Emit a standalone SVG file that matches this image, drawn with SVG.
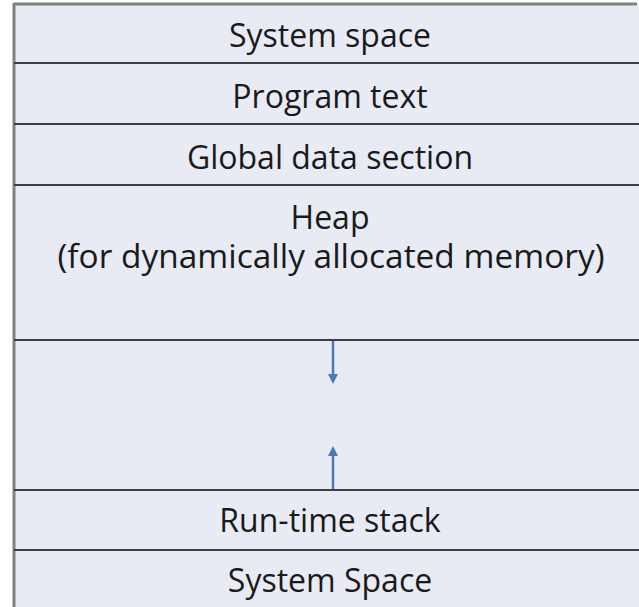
<svg xmlns="http://www.w3.org/2000/svg" width="639" height="607" viewBox="0 0 639 607">
<style>
.lbl{font-family:"Open Sans","Liberation Sans",sans-serif;font-size:32px;fill:#1a1a1a;text-anchor:middle}
.div{stroke:#3f3f3f;stroke-width:2}
.arr{stroke:#4a78b8;stroke-width:2.5;fill:none}
</style>
<defs>
<marker id="ah" markerWidth="4" markerHeight="4" refX="2" refY="2" orient="auto" markerUnits="strokeWidth">
<path d="M0,0 L4,2 L0,4 Z" fill="#4a78b8"/>
</marker>
</defs>
<rect x="0" y="0" width="639" height="607" fill="#ffffff"/>
<rect x="14" y="4" width="625" height="603" fill="#e8ebf3"/>
<line x1="14" y1="4" x2="637" y2="4" stroke="#808080" stroke-width="3"/>
<line x1="14" y1="3" x2="14" y2="607" stroke="#808080" stroke-width="3"/>
<g id="dividers">
<line class="div" x1="14" y1="63" x2="639" y2="63"/>
<line class="div" x1="14" y1="124" x2="639" y2="124"/>
<line class="div" x1="14" y1="185" x2="639" y2="185"/>
<line class="div" x1="14" y1="340" x2="639" y2="340"/>
<line class="div" x1="14" y1="490" x2="639" y2="490"/>
<line class="div" x1="14" y1="550" x2="639" y2="550"/>
</g>
<g id="n1"><text class="lbl" x="330" y="47">System space</text></g>
<g id="n2"><text class="lbl" x="330" y="108">Program text</text></g>
<g id="n3"><text class="lbl" x="330" y="169">Global data section</text></g>
<g id="n4"><text class="lbl" x="330" y="229">Heap</text><text class="lbl" x="331" y="268" textLength="547" lengthAdjust="spacingAndGlyphs">(for dynamically allocated memory)</text></g>
<g id="n5"></g>
<g id="n6"><text class="lbl" x="330" y="532">Run-time stack</text></g>
<g id="n7"><text class="lbl" x="330" y="592">System Space</text></g>
<g id="connectors">
<line class="arr" x1="333" y1="341" x2="333" y2="379" marker-end="url(#ah)"/>
<line class="arr" x1="333" y1="489" x2="333" y2="451" marker-end="url(#ah)"/>
</g>
</svg>
